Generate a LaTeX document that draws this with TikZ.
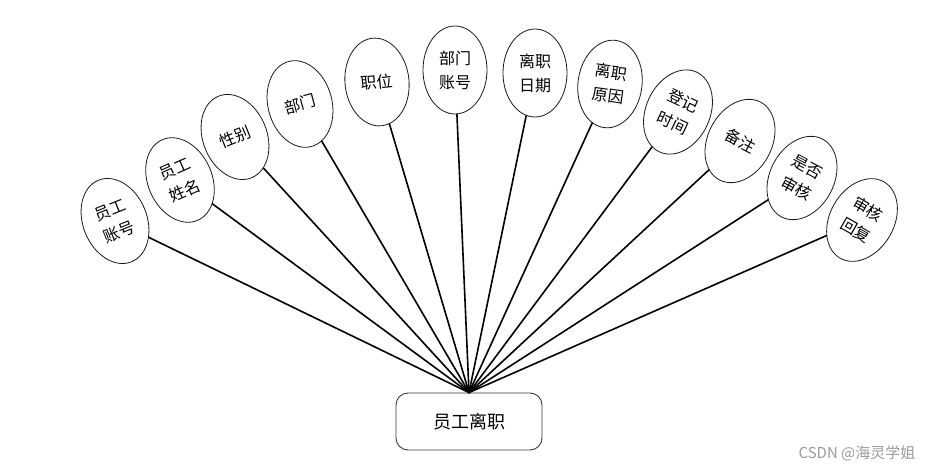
\documentclass[tikz,border=0pt]{standalone}
\usepackage{fontspec}
\newfontfamily\cjk{Noto Sans CJK SC}
\usetikzlibrary{shapes.geometric}
\definecolor{erline}{HTML}{1A1A1A}
\definecolor{boxline}{HTML}{3A3A3A}
\definecolor{markgray}{HTML}{9A9A9A}
\tikzset{
every picture/.style={line cap=round,line join=round},
attr node/.style={
  ellipse,
  draw=erline,
  line width=0.8pt,
  fill=white,
  minimum width=64pt,
  minimum height=88pt,
  inner sep=0pt,
  align=center,
  font=\cjk\fontsize{16}{24}\selectfont
},
entity box/.style={
  draw=boxline,
  rounded corners=12pt,
  line width=0.9pt,
  fill=white,
  minimum width=146pt,
  minimum height=57pt,
  font=\cjk\fontsize{18}{22}\selectfont
},
attr link/.style={draw=black, line width=1.6pt},
mark label/.style={text=markgray, font=\cjk\fontsize{15}{17}\selectfont}
}
\begin{document}
\begin{tikzpicture}[x=1pt,y=1pt]
\useasboundingbox (0,0) rectangle (942,472);
\node[entity box] (leave) at (469,50.5) {员工离职};
\node[attr node,rotate=22] (empno) at (115,251) {员工\\账号};
\node[attr node,rotate=24] (empname) at (180,292) {员工\\姓名};
\node[attr node,rotate=22] (gender) at (235,335) {性别};
\node[attr node,rotate=15] (dept) at (300,368) {部门};
\node[attr node,rotate=6] (post) at (377,390) {职位};
\node[attr node] (deptno) at (455,402) {部门\\账号};
\node[attr node] (leavedate) at (535,399) {离职\\日期};
\node[attr node,rotate=-8] (reason) at (610,388) {离职\\原因};
\node[attr node,rotate=-25] (regtime) at (678,360) {登记\\时间};
\node[attr node,rotate=-28] (remark) at (740,331) {备注};
\node[attr node,rotate=-28] (audited) at (802,294) {是否\\审核};
\node[attr node,rotate=-30] (reply) at (862,252) {审核\\回复};
\node[mark label] (mark) at (857,19) {CSDN @海灵学姐};
\draw[attr link] (leave.north) -- (empno);
\draw[attr link] (leave.north) -- (empname);
\draw[attr link] (leave.north) -- (gender);
\draw[attr link] (leave.north) -- (dept);
\draw[attr link] (leave.north) -- (post);
\draw[attr link] (leave.north) -- (deptno);
\draw[attr link] (leave.north) -- (leavedate);
\draw[attr link] (leave.north) -- (reason);
\draw[attr link] (leave.north) -- (regtime);
\draw[attr link] (leave.north) -- (remark);
\draw[attr link] (leave.north) -- (audited);
\draw[attr link] (leave.north) -- (reply);
\end{tikzpicture}
\end{document}
